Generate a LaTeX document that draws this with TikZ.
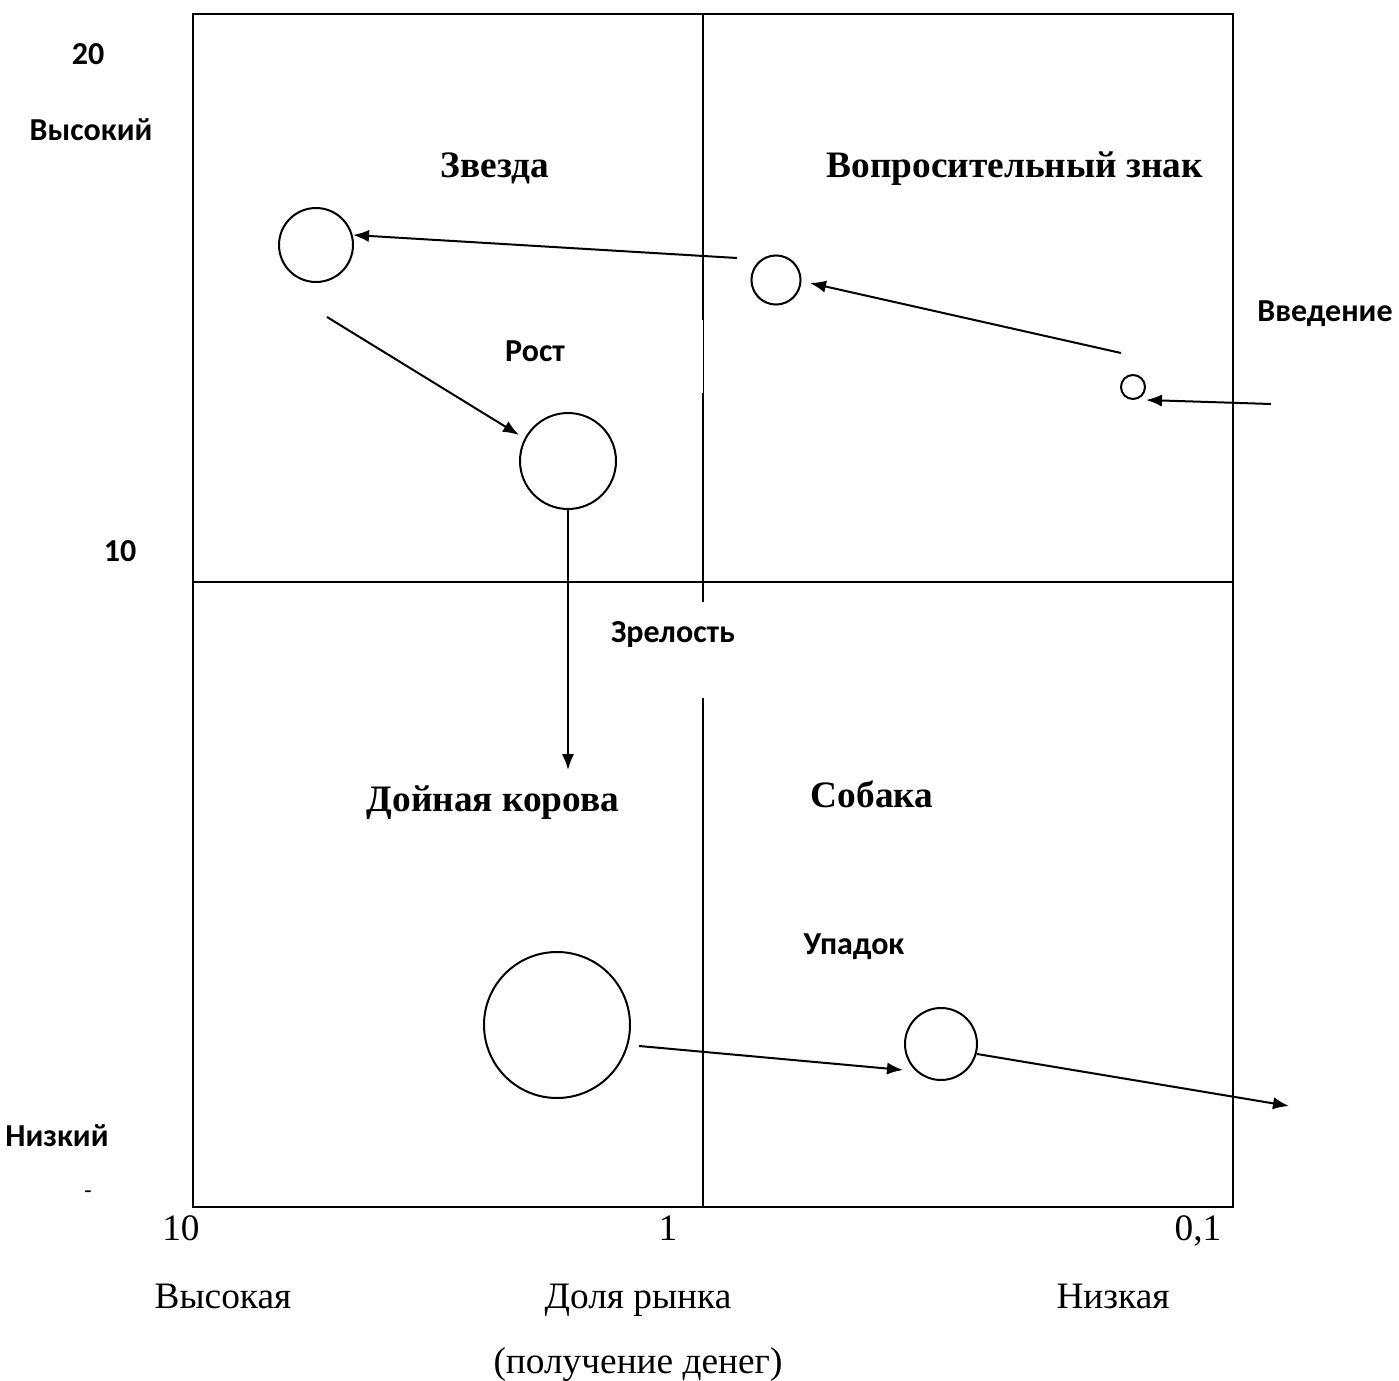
\documentclass[tikz,border=0pt]{standalone}
\usepackage{fontspec}
\setmainfont{Liberation Serif}
\newfontfamily\calfont{Carlito}
\usetikzlibrary{arrows.meta}
\begin{document}
\begin{tikzpicture}[x=0.375pt,y=-0.375pt,
  frame/.style={line width=0.75pt},
  circ/.style={circle,draw,line width=0.75pt,inner sep=0pt},
  arr/.style={line width=0.75pt,-{Latex[length=6pt,width=4.6pt]}},
  lab/.style={font=\calfont\bfseries\fontsize{12}{14}\selectfont,inner sep=0pt,anchor=base},
  title/.style={font=\bfseries\fontsize{14}{16}\selectfont,inner sep=0pt,anchor=base},
  axis/.style={font=\fontsize{14}{16}\selectfont,inner sep=0pt,anchor=base}]
\useasboundingbox (0,0) rectangle (1399,1381);
% frame
\draw[frame] (193,14) rectangle (1233,1207);
\draw[frame] (193,582) -- (1233,582);
\draw[frame] (703,14) -- (703,320);
\draw[line width=0.3pt] (703,320) -- (703,393);
\draw[frame] (703,393) -- (703,602);
\draw[frame] (703,698) -- (703,1207);
% circles
\node[circ,minimum size=27.75pt] (c1) at (316,245) {};
\node[circ,minimum size=18.4pt] (c2) at (776,280) {};
\node[circ,minimum size=9pt] (c3) at (1133,387) {};
\node[circ,minimum size=36pt] (c4) at (568,461) {};
\node[circ,minimum size=54.75pt] (c5) at (557,1025) {};
\node[circ,minimum size=27pt] (c6) at (941,1044) {};
% free ends
\coordinate (s1) at (737,258);
\coordinate (e1) at (353,235);
\coordinate (s2) at (1121,353);
\coordinate (e2) at (810,283);
\coordinate (s3) at (1271,404);
\coordinate (e3) at (1146,400);
\coordinate (s4) at (327,317);
\coordinate (e4) at (519,435);
\coordinate (e5) at (568,770);
\coordinate (s6) at (639,1046);
\coordinate (e6) at (903,1070);
\coordinate (s7) at (977,1054);
\coordinate (e7) at (1289,1106);
% arrows
\draw[arr] (s1) -- (e1);
\draw[arr] (s2) -- (e2);
\draw[arr] (s3) -- (e3);
\draw[arr] (s4) -- (e4);
\draw[arr] (c4.south) -- (e5);
\draw[arr] (s6) -- (e6);
\draw[arr] (s7) -- (e7);
% axis labels
\node[lab] (t20) at (88,65) {20};
\node[lab] (thi) at (91,140) {Высокий};
\node[lab] (t10) at (120,561) {10};
\node[lab] (tlo) at (57,1146) {Низкий};
\node[font=\calfont\fontsize{9}{10}\selectfont,inner sep=0pt] (tdash) at (88,1195) {-};
% quadrant titles
\node[title] (star) at (495,178) {Звезда};
\node[title] (quest) at (1015,178) {Вопросительный знак};
\node[title] (cow) at (493,811) {Дойная корова};
\node[title] (dog) at (872,807) {Собака};
% stage labels
\node[lab] (intro) at (1325,321) {Введение};
\node[lab] (grow) at (535,361) {Рост};
\node[lab] (mat) at (673,642) {Зрелость};
\node[lab] (dec) at (854,954) {Упадок};
% bottom axis
\node[axis] (x10) at (181,1240) {10};
\node[axis] (x1) at (668,1240) {1};
\node[axis] (x01) at (1198,1240) {0,1};
\node[axis] (xhi) at (223,1308) {Высокая};
\node[axis] (xmid) at (638,1308) {Доля рынка};
\node[axis] (xlo) at (1113,1308) {Низкая};
\node[axis] (xsub) at (638,1373) {(получение денег)};
\end{tikzpicture}
\end{document}
